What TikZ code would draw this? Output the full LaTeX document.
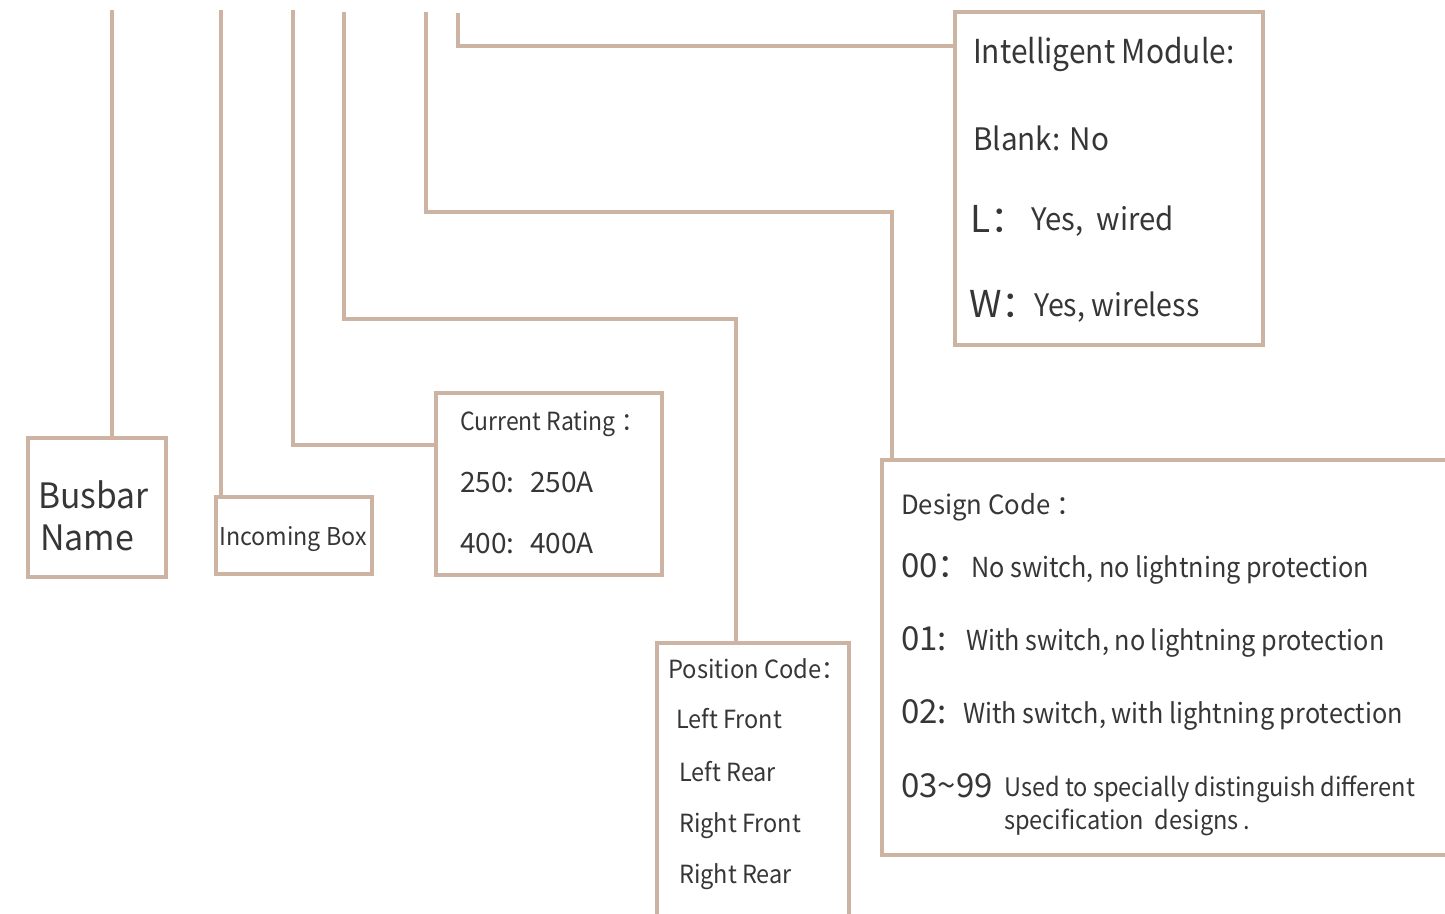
\documentclass[tikz,border=0pt]{standalone}
\usepackage{fontspec}
\setmainfont{Noto Sans CJK SC}
\definecolor{tan}{HTML}{CDB3A1}
\definecolor{ink}{HTML}{363636}
\newcommand{\fs}[2]{\fontsize{#1}{#1}\selectfont\addfontfeature{FakeStretch=#2}}
\tikzset{
  box/.style={draw=tan, line width=3.6pt, rectangle, inner sep=0pt, outer sep=0pt, anchor=north west},
  wire/.style={draw=tan, line width=3.6pt, line join=miter},
  txt/.style={anchor=base west, inner sep=0pt, text=ink},
}
\begin{document}
\begin{tikzpicture}[x=1pt,y=-1pt]
\useasboundingbox (0,0) rectangle (1445,913);
\clip (0,0) rectangle (1445,913);
% boxes
\node[box, minimum width=138pt, minimum height=139pt] (busbar) at (28,438) {};
\node[box, minimum width=156pt, minimum height=77pt] (incoming) at (216,497) {};
\node[box, minimum width=226pt, minimum height=182pt] (current) at (436,393) {};
\node[box, minimum width=192pt, minimum height=320pt] (position) at (657,643) {};
\node[box, minimum width=620pt, minimum height=395pt] (design) at (882,460) {};
\node[box, minimum width=308pt, minimum height=333pt] (intel) at (955,12) {};
% connector coordinates
\coordinate (t1) at (112,10);
\coordinate (t2) at (221,10);
\coordinate (t3) at (293,10);
\coordinate (t4) at (344,12);
\coordinate (t5) at (426,12);
\coordinate (t6) at (458,13);
\coordinate (c3) at (293,445);
\coordinate (c4a) at (344,319);
\coordinate (c4b) at (736,319);
\coordinate (c5a) at (426,212);
\coordinate (c5b) at (892,212);
\coordinate (c6) at (458,46);
% connectors
\draw[wire] (t1) -- (busbar.north -| t1);
\draw[wire] (t2) -- (incoming.north -| t2);
\draw[wire] (t3) -- (c3) -- (c3 -| current.west);
\draw[wire] (t4) -- (c4a) -- (c4b) -- (position.north -| c4b);
\draw[wire] (t5) -- (c5a) -- (c5b) -- (design.north -| c5b);
\draw[wire] (t6) -- (c6) -- (c6 -| intel.west);
% Busbar
\node[txt, font=\fs{35}{0.96}] (bb1) at (38,508) {Busbar};
\node[txt, font=\fs{35}{0.97}] (bb2) at (40,550) {Name};
% Incoming
\node[txt, font=\fs{24.5}{0.95}] (ib) at (219,545) {Incoming Box};
% Current rating
\node[txt, font=\fs{25}{0.92}] (cr0) at (460,430) {Current Rating ：};
\node[txt, font=\fs{28}{1}] (cr1) at (460,492) {250:};
\node[txt, font=\fs{28}{1}] (cr1b) at (530,492) {250A};
\node[txt, font=\fs{28}{1}] (cr2) at (460,553) {400:};
\node[txt, font=\fs{28}{1}] (cr2b) at (530,553) {400A};
% Position code
\node[txt, font=\fs{25}{0.95}] (pc0) at (668,678) {Position Code：};
\node[txt, font=\fs{25}{0.94}] (pc1) at (676,728) {Left Front};
\node[txt, font=\fs{25}{0.94}] (pc2) at (679,781) {Left Rear};
\node[txt, font=\fs{25}{0.94}] (pc3) at (679,832) {Right Front};
\node[txt, font=\fs{25}{0.94}] (pc4) at (679,883) {Right Rear};
% Design code
\node[txt, font=\fs{26.5}{0.97}] (dc0) at (901,514) {Design Code ：};
\node[txt, font=\fs{33}{1}] (dc1) at (901,577) {00：};
\node[txt, font=\fs{27.5}{0.917}] (dc1b) at (971,577) {No switch, no lightning protection};
\node[txt, font=\fs{33}{1}] (dc2) at (901,650) {01:};
\node[txt, font=\fs{27.5}{0.917}] (dc2b) at (966,650) {With switch, no lightning protection};
\node[txt, font=\fs{33}{1}] (dc3) at (901,723) {02:};
\node[txt, font=\fs{27.5}{0.917}] (dc3b) at (963,723) {With switch, with lightning protection};
\node[txt, font=\fs{33}{1}] (dc4) at (901,797) {03\textasciitilde99};
\node[txt, font=\fs{25.5}{0.925}] (dc4b) at (1004,796) {Used to specially distinguish different};
\node[txt, font=\fs{25.5}{0.925}] (dc4c) at (1004,829) {specification\ \ designs\,.};
% Intelligent module
\node[txt, font=\fs{33}{0.906}] (im0) at (973,63) {Intelligent Module:};
\node[txt, font=\fs{31}{0.957}] (im1) at (973,150) {Blank: No};
\node[txt, font=\fs{37}{1}] (im2) at (970,232) {L：};
\node[txt, font=\fs{31}{0.946}] (im2b) at (1031,230) {Yes,\ \ wired};
\node[txt, font=\fs{37}{1}] (im3) at (969,317) {W：};
\node[txt, font=\fs{31}{0.92}] (im3b) at (1034,316) {Yes, wireless};
\end{tikzpicture}
\end{document}
